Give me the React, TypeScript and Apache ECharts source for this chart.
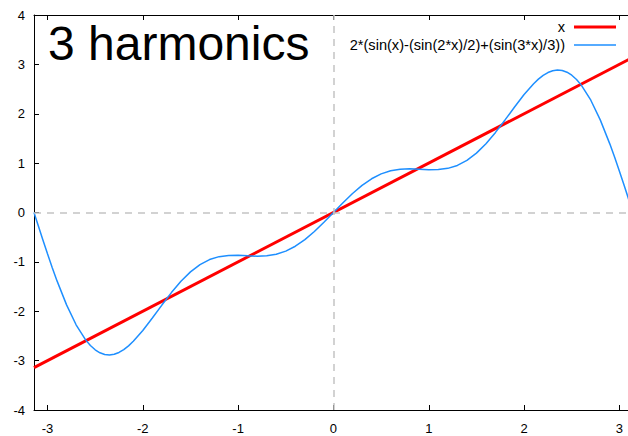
import React, { useEffect, useRef } from "react";
import * as echarts from "echarts";

const TITLE = "3 harmonics";
const NAME_LINE = "x";
const NAME_CURVE = "2*(sin(x)-(sin(2*x)/2)+(sin(3*x)/3))";

const X_MIN = -3.14159;
const X_MAX = 3.09;
const xTicks = [-3, -2, -1, 0, 1, 2, 3];

const lineX = [-3.14159, 3.14159];
const lineY = [-3.14159, 3.14159];

const curveX = [
  -3.14159, -3.1, -3.05, -3.0, -2.95, -2.9, -2.8, -2.7, -2.6, -2.55, -2.5, -2.45, -2.4,
  -2.35, -2.3, -2.25, -2.2, -2.15, -2.1, -2.0, -1.9, -1.8, -1.7, -1.6, -1.5, -1.4,
  -1.3, -1.2, -1.1, -1.0, -0.9, -0.8, -0.7, -0.6, -0.5, -0.4, -0.3, -0.2, -0.1, 0,
  0.1, 0.2, 0.3, 0.4, 0.5, 0.6, 0.7, 0.8, 0.9, 1.0, 1.1, 1.2, 1.3, 1.4, 1.5, 1.6,
  1.7, 1.8, 1.9, 2.0, 2.1, 2.15, 2.2, 2.25, 2.3, 2.35, 2.4, 2.45, 2.5, 2.55, 2.6,
  2.7, 2.8, 2.9, 2.95, 3.0, 3.05, 3.1, 3.14159,
];
const curveY = [
  0, -0.249, -0.546, -0.836, -1.117, -1.385, -1.871, -2.274, -2.58, -2.694, -2.781,
  -2.842, -2.876, -2.885, -2.871, -2.834, -2.776, -2.701, -2.609, -2.389, -2.137,
  -1.875, -1.622, -1.393, -1.202, -1.055, -0.953, -0.894, -0.869, -0.868, -0.878,
  -0.885, -0.878, -0.846, -0.782, -0.683, -0.549, -0.384, -0.198, 0,
  0.198, 0.384, 0.549, 0.683, 0.782, 0.846, 0.878, 0.885, 0.878, 0.868, 0.869, 0.894,
  0.953, 1.055, 1.202, 1.393, 1.622, 1.875, 2.137, 2.389, 2.609, 2.701, 2.776, 2.834,
  2.871, 2.885, 2.876, 2.842, 2.781, 2.694, 2.58, 2.274, 1.871, 1.385, 1.117, 0.836,
  0.546, 0.249, 0,
];

const FONT = "'Liberation Sans', Arial, sans-serif";

export default function App() {
  const ref = useRef<HTMLDivElement>(null);
  useEffect(() => {
    if (!ref.current) return;
    const chart = echarts.init(ref.current, undefined, { renderer: "svg" });
    const axisLine = { show: true, onZero: false, lineStyle: { color: "#000", width: 1 } };
    chart.setOption({
      animation: false,
      backgroundColor: "#fff",
      grid: { left: 34, right: 0, top: 15, bottom: 26, containLabel: false },
      graphic: [
        {
          type: "text",
          left: 48,
          top: 19,
          style: { text: TITLE, font: `48px ${FONT}`, fill: "#000" },
          z: 10,
        },
      ],
      legend: [
        {
          data: [{ name: NAME_LINE, icon: "rect", itemStyle: { color: "#ff0000" } }],
          right: 12,
          top: 19.5,
          padding: 0,
          align: "right",
          itemWidth: 42,
          itemHeight: 3,
          textStyle: { fontFamily: FONT, fontSize: 14.6, color: "#000", padding: [0, 4, 0, 0] },
        },
        {
          data: [{ name: NAME_CURVE, icon: "rect", itemStyle: { color: "#1e8fff" } }],
          right: 12,
          top: 37.5,
          padding: 0,
          align: "right",
          itemWidth: 42,
          itemHeight: 1.5,
          textStyle: { fontFamily: FONT, fontSize: 14.6, color: "#000", padding: [0, 4, 0, 0] },
        },
      ],
      xAxis: [
        {
          type: "value",
          min: X_MIN,
          max: X_MAX,
          position: "bottom",
          axisLine,
          splitLine: { show: false },
          axisTick: { show: true, inside: true, length: 5, customValues: xTicks, lineStyle: { color: "#000" } },
          axisLabel: {
            customValues: xTicks,
            margin: 12,
            fontFamily: FONT,
            fontSize: 13,
            color: "#000",
          },
        },
        {
          type: "value",
          min: X_MIN,
          max: X_MAX,
          position: "top",
          axisLine,
          splitLine: { show: false },
          axisTick: { show: true, inside: true, length: 5, customValues: xTicks, lineStyle: { color: "#000" } },
          axisLabel: { show: false },
        },
      ],
      yAxis: [
        {
          type: "value",
          min: -4,
          max: 4,
          interval: 1,
          position: "left",
          axisLine,
          splitLine: { show: false },
          axisTick: { show: true, inside: true, length: 5, lineStyle: { color: "#000" } },
          axisLabel: { margin: 9, fontFamily: FONT, fontSize: 13, color: "#000" },
        },
      ],
      series: [
        {
          type: "line",
          name: "zero",
          data: [],
          z: 1,
          markLine: {
            silent: true,
            symbol: "none",
            label: { show: false },
            lineStyle: { color: "#c4c4c4", type: [7, 6], width: 1.5 },
            data: [{ xAxis: 0 }, { yAxis: 0 }],
          },
        },
        {
          type: "line",
          name: NAME_LINE,
          data: lineX.map((x, i) => [x, lineY[i]]),
          showSymbol: false,
          symbol: "none",
          lineStyle: { color: "#ff0000", width: 3 },
          itemStyle: { color: "#ff0000" },
          z: 2,
        },
        {
          type: "line",
          name: NAME_CURVE,
          data: curveX.map((x, i) => [x, curveY[i]]),
          showSymbol: false,
          symbol: "none",
          lineStyle: { color: "#1e8fff", width: 1.5 },
          itemStyle: { color: "#1e8fff" },
          z: 3,
        },
      ],
    });
    return () => chart.dispose();
  }, []);
  return <div ref={ref} style={{ width: 628, height: 436, position: "absolute", left: 0, top: 0 }} />;
}
